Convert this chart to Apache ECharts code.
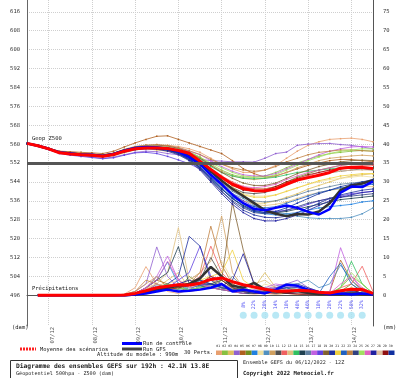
<!DOCTYPE html>
<html><head><meta charset="utf-8">
<script src="https://cdn.jsdelivr.net/npm/echarts@6.0.0/dist/echarts.min.js"></script>
<style>html,body{margin:0;padding:0;background:#fff}#c{width:400px;height:378px}</style>
</head><body><div id="c"></div>
<script>
const hours = ['h0','h6','h12','h18','h24','h30','h36','h42','h48','h54','h60','h66','h72','h78','h84','h90','h96','h102','h108','h114','h120','h126','h132','h138','h144','h150','h156','h162','h168','h174','h180','h186','h192'];
const dateLabels = ['07/12','08/12','09/12','10/12','11/12','12/12','13/12','14/12'];
const dateHours = ['h12','h36','h60','h84','h108','h132','h156','h180'];
const leftTicks = [496,504,512,520,528,536,544,552,560,568,576,584,592,600,608,616];
const rightTicks = [0,5,10,15,20,25,30,35,40,45,50,55,60,65,70,75];
const refLevel = 552;
const memberColors = ['#e8a070','#88c040','#e0c060','#9060d0','#b06020','#709020','#2080e0','#f0e0a0','#5090c0','#d0a060','#505050','#f06060','#e0c080','#30c060','#204050','#6080a0','#c060e0','#6040e0','#806030','#2030a0','#f0d040','#2060c0','#c08040','#304080','#a0e060','#e060c0','#2020a0','#e0c0a0','#901010','#1030a0'];
const memberNames = ['01','02','03','04','05','06','07','08','09','10','11','12','13','14','15','16','17','18','19','20','21','22','23','24','25','26','27','28','29','30'];

const zMean = [560.3,559.3,558,556.3,555.8,555.5,555.3,554.9,555.6, 557,558,558.3,558.3,558.1,557.3,556.1,552.8, 549.3,546,543,541.2,540.3,540.2,541,543, 544.8,545.8,546.8,548,549.8,550.2,550.1,549.7];
const zControl = [560.3,559.3,558,556.5,556,555.5,555.5,555,555.8, 557.2,558.4,558.8,558.6,558,556.8,554.5,551.5, 547,543,538.5,535,532.5,532,533,534, 533,531.3,530.2,532.5,539.5,542,541.8,544.2];
const zGfs = [560.3,559.3,558,556.5,556,555.6,555.4,555.1,555.8, 557.3,558.3,558.6,558.5,558,557,555,552.5, 548.5,544.5,541,538,535,532,530.5,529.5, 530.4,530.2,531.5,535,540.5,542.5,543.3,544.7];
const zMembers = [
[560.3,559.5,558.2,556.8,556.5,556,555.8,555.5,556, 557.5,558.5,559,559.5,559.5,559,558,556.5, 554,551.5,549.5,548,548,549,551,554, 557,559.5,561,562,562.3,562.5,562,561],
[560.3,559.2,558,556.3,556,555.6,555.2,555,555.8, 557.3,558.5,559,559,558.8,558,556.8,554.5, 551.5,549,547,546,546,546.5,548,550, 552,553.5,555,556,556.5,557,557.3,557],
[560.3,559.3,558,556.6,556.2,555.3,555,554.5,555, 556.3,557.5,558,557.5,557,556,554,551, 547,543,539,536,535,535,536,537.5, 539,541,542.5,544,545.5,546.5,547,547.5],
[560.3,559.2,557.8,556.2,555.5,555,554.5,554,554.5, 555.5,556.5,557,556.8,556,555.5,554.5,553.5, 553,552.8,552.5,552.5,552.4,554,556,556.6, 559.5,560,560.2,560.3,559.8,559.5,558.8,558],
[560.3,559.5,558.3,557,556.8,556.5,556.3,556,557, 558.8,560.5,562,563.3,563.5,562,560.5,559, 557.5,556,553,549.6,547.5,546,546.5,548, 549.5,551,552,553,553.5,553.5,553,552.5],
[560.3,559.3,558,556.4,555.8,555.4,555,554.6,555.3, 556.8,558,558.5,558.5,558,557,555,552.5, 549,545.5,543,541.5,541,541,542,544, 546,547.5,549,550,551,551.5,552,552],
[560.3,559.3,557.9,556.3,555.7,555.3,555,554.8,555.5, 557,558,558.3,558,557.5,556,553.5,550, 545.5,541,537,534,531.5,530.5,530,530.5, 531,532,533,533.5,534,534.5,535.5,536],
[560.3,559.4,558.2,556.7,556.2,555.8,555.5,555.2,556, 557.5,558.5,558.8,558.5,558,557,555.5,553.5, 549.5,546,542,539,538,538,538.5,540, 541.5,543,544,545,545.5,546,546.5,546],
[560.3,559.3,558,556.5,556,555.5,555.3,555,555.6, 557,558,558.5,558.5,558,556.5,554,550.5, 546,542,539,537,534,532,531,530.5, 529.5,528.8,528.5,528.5,528.5,529,530.5,533],
[560.3,559.4,558.1,556.6,556.1,555.7,555.4,555.1,555.8, 557.3,558.4,558.8,559,558.6,557.8,556.3,554, 551,548.5,546.5,545.5,545,545.5,546.5,548, 550,551.5,553,554,554.5,555,555.3,555],
[560.3,559.3,558,556.5,556,555.6,555.3,555,555.7, 557.1,558.1,558.4,558.3,557.8,556.8,554.8,552, 548,544.5,541.5,539.5,539,539.5,541,543, 544.5,546,547,548,548.5,549,549.5,549],
[560.3,559.2,558,556.4,555.9,555.5,555.2,554.9,555.5, 556.8,557.8,558.3,558.3,558,557,555.3,552.8, 549.5,546.5,544,542,541,541,542,543.5, 545,546.5,548,549,550,550.5,551,551],
[560.3,559.3,558,556.5,556,555.6,555.4,555.1,555.7, 557,558,558.3,558,557.3,556,553.8,550.5, 546,542,538.5,536,534.5,534,534.5,535.5, 537,538.5,539.5,540.5,541,541.5,542,542],
[560.3,559.3,558.1,556.6,556.1,555.7,555.4,555.2,555.9, 557.4,558.5,558.9,558.9,558.5,557.5,556,553.8, 550.5,548,546.5,545.5,545.3,545.5,546,547, 548,548.5,549,549.5,550,550.3,550.3,550],
[560.3,559.3,558,556.4,555.8,555.4,555.1,554.8,555.4, 556.8,557.8,558.2,558,557.4,556,553.5,550, 545.5,541,537,534,532,531,531,531.5, 532.5,533.5,534.5,535.5,536.5,537,537.5,538],
[560.3,559.3,558,556.5,556,555.5,555.2,555,555.6, 557,558,558.4,558.2,557.6,556.4,554.2,551, 547,543.5,540,537.5,536,535.5,536,537, 538.5,540,541,542,543,543.5,544,544],
[560.3,559.4,558.2,556.8,556.3,555.9,555.6,555.3,556, 557.5,558.6,559.2,559.3,559,558.3,557,555.5, 553,550.5,548.5,547,546.5,546.5,547.5,549.5, 551.5,553.5,555.5,557,558,558.8,559,558.8],
[560.3,559.1,557.7,556,555.3,554.8,554.3,553.8,554.2, 555.3,556.3,556.5,556,554.8,553.3,551.7,549.5, 546,542.5,539,536,533.5,532,531.5,532, 533,534.5,536,537,538,539,539.5,540],
[560.3,559.4,558.2,556.7,556.3,555.9,555.6,555.3,556, 557.6,558.8,559.4,559.6,559.2,558.2,556.5,554.2, 551,548,545.5,543.5,542.5,542.5,543.5,545.5, 547.5,549,550.5,551.5,552.5,553,553.2,553],
[560.3,559.3,558,556.4,555.9,555.4,555.1,554.8,555.5, 556.9,558,558.4,558.3,557.7,556.2,553.6,549.8, 545,540,535.5,532,530,529,528.8,529.5, 531,533,535,537,538.5,539.5,540.5,541],
[560.3,559.4,558.1,556.6,556.2,555.8,555.5,555.2,555.8, 557.2,558.3,558.7,558.6,558.1,557,555,552, 548.5,545,541.5,538.5,537.5,537.5,538.5,540, 541.5,543,544.5,545.5,546.5,547,547.5,547.5],
[560.3,559.3,558,556.5,556,555.5,555.2,554.9,555.5, 556.9,558,558.3,558.2,557.5,556,553.5,550.3, 546,541.5,537.5,535,533.5,533,533.5,535, 536.5,538,539.5,540.5,541.5,542,542.5,543],
[560.3,559.5,558.3,556.9,556.5,556.1,555.8,555.5,556.2, 557.8,559,559.6,559.8,559.4,558.6,557.2,555.6, 553.5,551.5,550,549,548.5,549,550.5,552.5, 554,555.5,556.5,557,557.5,557.5,557.2,557],
[560.3,559.3,558,556.5,556,555.5,555.3,555,555.6, 557,558.1,558.5,558.3,557.6,556,553.3,549.5, 544.5,540,536,533,531,530.5,531,532, 533.5,535,536,537,537.5,538,538.5,539],
[560.3,559.4,558.2,556.7,556.2,555.8,555.5,555.3,556, 557.5,558.6,559.1,559.1,558.7,557.8,556.4,554.5, 552,550,548,546.5,546,546,547,549, 551,553,554.5,556,557,557.5,558,558],
[560.3,559.3,558,556.4,555.9,555.5,555.2,554.9,555.5, 556.9,558,558.4,558.4,558,557,555.2,552.6, 549,546,543.5,542,541.5,542,543,545, 546.5,548,549,550,551,551.5,552,552],
[560.3,559.3,558,556.4,555.8,555.3,555,554.7,555.3, 556.6,557.6,558,557.8,557,555.5,553,549, 544,539,534.5,531,528.5,527.5,527.5,528.5, 530,532,534,536,537.5,538.5,539.5,540],
[560.3,559.4,558.2,556.7,556.2,555.8,555.6,555.3,556, 557.4,558.4,558.8,558.8,558.3,557.2,555.4,553, 549.5,546.5,543.5,541.5,540.5,540.5,541.5,543, 544.5,546,547,548,548.5,549,549,549],
[560.3,559.3,558,556.5,556,555.6,555.3,555,555.7, 557.1,558.2,558.6,558.6,558.2,557.2,555.2,552.5, 549,545.5,542.5,540.5,540,540.5,542,544, 545.5,547,548,549,549.5,550,550.2,550],
[560.3,559.3,558,556.5,556,555.5,555.2,554.9,555.5, 556.9,558,558.3,558.1,557.5,556.2,553.8,550.2, 545.5,541,537,533.5,531.5,531,531.5,533, 535,537,539,540.5,542,543,544,545]
];

const pMean = [null,0,0,0,0,0,0,0,0, 0.1,0.5,1.2,2,2.4,2.8,2.7,3.2, 4.2,4.6,3.6,2.8,2.2,1.6,1.1,1.1, 1.3,1.2,0.8,0.6,1.2,1.6,1.5,0.5];
const pControl = [null,0,0,0,0,0,0,0,0, 0,0.2,0.5,1,1.5,1,1.2,1.5, 2,3,1,1.5,1,0.5,1.5,2.8, 2.5,1.5,0.8,0.3,0.5,0.2,0.5,0.2];
const pGfs = [null,0,0,0,0,0,0,0,0, 0,0.2,0.8,1.5,2,2.5,3,4.5, 7.5,5,2.5,2,3.3,1.5,1,0.8, 1.2,0.6,0.3,0.3,0.2,0.5,0.3,0.2];
const pMembers = [
[null,0,0,0,0,0,0,0,0, 0.3,2,7.6,3,1,0.5,1.5,2, 3,2,1,0.5,0.3,0.5,1,0.5, 0.3,0.2,0.2,0.5,1,2,1,0.3],
[null,0,0,0,0,0,0,0,0, 0,0.5,1.5,5,2,3,1,2.5, 4,3,1.5,1,0.5,0.5,1,1.5, 1,0.5,0.3,0.5,2,5,3,0.5],
[null,0,0,0,0,0,0,0,0, 0,0.3,1,2,4,6,2,3, 2,5,3,1,2,6,2,1, 1,0.5,0.5,0.3,0.5,1,0.5,0.2],
[null,0,0,0,0,0,0,0,0, 0.2,1,3,12.8,5,2,1.5,3, 2,1.5,1,2,1,1.5,2.5,3, 4,2,1,0.5,1,1.5,0.5,0.2],
[null,0,0,0,0,0,0,0,0, 0,0.5,2,4,3,2,1,1.5, 3,2,1.5,1,0.5,0.5,0.3,0.5, 0.5,0.3,0.3,1,9.3,4,1.5,0.3],
[null,0,0,0,0,0,0,0,0, 0,0.3,1,3,2,1.5,5,3, 2,4,2,1,0.5,1,1.5,1, 0.5,0.5,0.3,0.3,1,3,1,0.2],
[null,0,0,0,0,0,0,0,0, 0,0.5,2,4,8.8,3,1.5,2, 2.5,1.5,1,0.5,0.5,1,1.5,2, 1.5,1,0.5,0.3,0.5,1,0.5,0.2],
[null,0,0,0,0,0,0,0,0, 0,0.2,1,2,3,4,3,2, 6,9,4,2,1,3,2,1.5, 1,0.5,0.3,0.3,0.5,1,0.5,0.2],
[null,0,0,0,0,0,0,0,0, 0,0.3,1,2.5,2,1.5,2,3, 2,3,1.5,1,0.5,1,2,3, 3,4,2,3,8,4,1,0.3],
[null,0,0,0,0,0,0,0,0, 0.3,1,3,5,2,3,4,6, 9,21,6,2,1,1,0.5,0.5, 0.3,0.3,0.2,0.5,0.5,1,0.5,0.2],
[null,0,0,0,0,0,0,0,0, 0,0.3,1,2,3,2,3,4, 10,5,2,1,1,1.5,1,0.5, 0.5,0.3,0.2,0.3,0.5,1,0.5,0.2],
[null,0,0,0,0,0,0,0,0, 0,0.5,1.5,3,2,2.5,3,5, 13,6,3,1.5,1,0.5,0.5,1, 1,0.5,0.3,0.3,2,3,7.7,1],
[null,0,0,0,0,0,0,0,0, 0,0.5,2,3,6,17.9,4,3, 2,1.5,1,2,3,4,2,1, 0.5,0.5,0.3,0.3,0.5,1,0.5,0.2],
[null,0,0,0,0,0,0,0,0, 0,0.3,1,2,3,2,1.5,2, 3,4,2,1.5,1,2,1.5,1, 1,0.5,0.5,0.5,2,9,3,0.5],
[null,0,0,0,0,0,0,0,0, 0,0.5,2,4,6,12.9,3,2.5, 2,1.5,1,0.5,0.5,0.5,1,0.5, 0.5,0.3,0.2,0.3,1,1.5,0.5,0.2],
[null,0,0,0,0,0,0,0,0, 0,0.3,1,2,1.5,3,2,4, 3,2,5,2,1,0.5,1,1.5, 1,0.5,0.3,0.3,0.5,0.5,0.3,0.2],
[null,0,0,0,0,0,0,0,0, 0,0.5,2,5,10.4,4,2,3, 2.5,2,1.5,1,1.5,2,3,2.5, 2,1,0.5,1,12.6,5,1.5,0.3],
[null,0,0,0,0,0,0,0,0, 0,0.3,1,3,2,4,6,13, 5,3,1.5,1,0.5,1,1.5,1, 0.5,0.5,0.3,0.3,0.5,1,0.5,0.2],
[null,0,0,0,0,0,0,0,0, 0,0.2,1,2,1.5,2,3,3, 3,4,24.5,12,3,1.5,1,0.5, 0.5,0.3,0.2,0.3,0.5,1,0.5,0.2],
[null,0,0,0,0,0,0,0,0, 0,0.3,1,2,3,5,15.6,13, 4,2,1.5,1,1,1.5,2,2.5, 3,2,1,0.5,0.5,1,0.5,0.2],
[null,0,0,0,0,0,0,0,0, 0,0.2,1,2,1.5,2,3,4, 5,6,12,4,2,1,1.5,2, 1.5,1,0.5,0.5,1,2,1,0.3],
[null,0,0,0,0,0,0,0,0, 0,0.3,1,1.5,2,3,2,2.5, 3,2,1.5,1,0.5,1,1.5,2, 1,0.5,0.5,5,8.5,3,1,0.2],
[null,0,0,0,0,0,0,0,0, 0.2,1,4,3,2,2.5,3,6, 18.3,8,3,1.5,1,1,0.5,0.5, 0.5,0.3,0.2,0.3,0.5,1,2,0.5],
[null,0,0,0,0,0,0,0,0, 0,0.3,1,2,2.5,2,3,3.5, 4,3,2,1.5,1,1,0.5,1, 1.5,1,0.5,0.3,0.5,0.5,0.3,0.2],
[null,0,0,0,0,0,0,0,0, 0,0.3,1,2,3,2,1.5,2, 2.5,2,1.5,1,0.5,0.5,1,1.5, 1,0.5,0.3,0.5,2,6,3,0.5],
[null,0,0,0,0,0,0,0,0, 0,0.5,2,4,9,4,2,3, 2,1.5,1,0.5,1,1.5,2,1.5, 1,0.5,0.3,0.5,3,5,2,0.5],
[null,0,0,0,0,0,0,0,0, 0,0.3,1,2,2,3,4,3, 3,2.5,4,11,3,1.5,1,0.5, 0.5,0.3,0.2,0.3,0.5,0.5,0.3,0.2],
[null,0,0,0,0,0,0,0,0, 0,0.3,1.5,3,2.5,3,2,3, 4,3,2,1,0.5,1,1.5,1, 0.5,0.3,0.3,0.3,0.5,1,0.5,0.2],
[null,0,0,0,0,0,0,0,0, 0,0.2,1,2,1.5,2,2.5,3, 5,4,2,1,0.5,0.5,1,0.5, 0.3,0.3,0.2,0.5,1,1.5,0.5,0.2],
[null,0,0,0,0,0,0,0,0, 0,0.3,1,1.5,2,2.5,3,4, 3,2,1.5,1,0.5,1,1.5,2, 2,1.5,0.5,0.3,0.5,1,0.5,0.2]
];

const pctHours = ['h120','h126','h132','h138','h144','h150','h156','h162','h168','h174','h180','h186'];
const pctLabels = ['8%','22%','28%','14%','18%','48%','46%','18%','28%','22%','58%','32%'];

const MONO = 'DejaVu Sans Mono';
const Y_MIN = 483, Y_MAX = 621;
const chart = echarts.init(document.getElementById('c'), null, {renderer: 'canvas'});

const dayTickIdx = dateHours.map(h => hours.indexOf(h));

const series = [];
pMembers.forEach((d, i) => series.push({type: 'line', data: d, yAxisIndex: 1, symbol: 'none', silent: true, z: 2,
  lineStyle: {width: 0.8, color: memberColors[i]}}));
zMembers.forEach((d, i) => series.push({type: 'line', data: d, yAxisIndex: 0, symbol: 'rect', symbolSize: 1.5, silent: true, z: 2,
  itemStyle: {color: memberColors[i]}, lineStyle: {width: 0.8, color: memberColors[i]}}));
series.push({type: 'line', data: pGfs, yAxisIndex: 1, symbol: 'none', z: 3, lineStyle: {width: 2.5, color: '#333'}});
series.push({type: 'line', data: pControl, yAxisIndex: 1, symbol: 'none', z: 3, lineStyle: {width: 2.5, color: '#0000ff'}});
series.push({type: 'line', data: pMean, yAxisIndex: 1, symbol: 'none', z: 4, lineStyle: {width: 3, color: '#ff0000'}});
series.push({type: 'line', data: zGfs, yAxisIndex: 0, symbol: 'none', z: 3, lineStyle: {width: 2.5, color: '#333'}});
series.push({type: 'line', data: zControl, yAxisIndex: 0, symbol: 'none', z: 3, lineStyle: {width: 2.5, color: '#0000ff'}});
series.push({type: 'line', data: zMean, yAxisIndex: 0, symbol: 'none', z: 4, lineStyle: {width: 3, color: '#ff0000'},
  markLine: {silent: true, symbol: 'none', label: {show: false}, lineStyle: {color: '#555', width: 3, type: 'solid'},
    data: [{yAxis: refLevel}]}});
series.push({type: 'scatter', yAxisIndex: 0, z: 5, symbol: 'circle', symbolSize: 7, itemStyle: {color: '#a8e2f2'},
  data: pctHours.map(h => [h, 487.5])});
series.push({type: 'scatter', yAxisIndex: 0, z: 6, symbolSize: 0,
  data: pctHours.map(h => [h, 492]),
  label: {show: true, position: 'inside', rotate: 90, fontSize: 5, fontFamily: MONO, color: '#2a2af0',
    formatter: p => pctLabels[p.dataIndex]}});
// date labels under the x axis, anchored on the day ticks
series.push({type: 'scatter', yAxisIndex: 0, z: 6, symbolSize: 0, silent: true, clip: false,
  data: dateHours.map(h => [h, Y_MIN]),
  label: {show: true, position: 'bottom', distance: 1, rotate: 90, align: 'right', verticalAlign: 'middle',
    offset: [0, 3.5], fontSize: 5.5, fontFamily: MONO, color: '#222',
    formatter: p => dateLabels[p.dataIndex]}});

const graphics = [];
const txt = (x, y, s, size, bold, extra) => graphics.push(Object.assign({type: 'text', x: x, y: y,
  style: {text: s, fontFamily: MONO, fontSize: size, fontWeight: bold ? 'bold' : 'normal', fill: '#222', verticalAlign: 'middle'}}, extra || {}));
txt(32, 139, 'Geop Z500', 5.5);
txt(32, 289, 'Précipitations', 5.5);
txt(12, 328, '(dam)', 5.5);
txt(383, 328, '(mm)', 5.5);
graphics.push({type: 'line', shape: {x1: 20, y1: 349, x2: 36, y2: 349}, style: {stroke: '#ff2020', lineWidth: 3, lineDash: [2, 1]}});
txt(40, 349.5, 'Moyenne des scénarios', 5.4);
graphics.push({type: 'line', shape: {x1: 122, y1: 343.5, x2: 142, y2: 343.5}, style: {stroke: '#0000ff', lineWidth: 3}});
txt(143, 343.5, 'Run de contrôle', 5.4);
graphics.push({type: 'line', shape: {x1: 122, y1: 349, x2: 142, y2: 349}, style: {stroke: '#444', lineWidth: 3}});
txt(143, 349.5, 'Run GFS', 5.4);
txt(97, 355, 'Altitude du modele : 990m', 5.4);
txt(184, 352.5, '30 Perts.', 5.4);
memberColors.forEach((c, i) => {
  graphics.push({type: 'rect', shape: {x: 216 + i * 5.95, y: 350.5, width: 5.95, height: 4.5}, style: {fill: c}});
  txt(216.3 + i * 5.95, 346.5, memberNames[i], 3.2);
});
graphics.push({type: 'rect', shape: {x: 10.5, y: 360.5, width: 227, height: 20}, style: {fill: '#fff', stroke: '#333', lineWidth: 1}});
txt(16, 366, 'Diagramme des ensembles GEFS sur 192h : 42.1N 13.8E', 6.3, true);
txt(16, 374, 'Géopotentiel 500hpa - Z500 (dam)', 5.1);
txt(243, 362.5, 'Ensemble GEFS du 06/12/2022 - 12Z', 5.1);
txt(243, 373.5, 'Copyright 2022 Meteociel.fr', 5.6, true);

chart.setOption({
  animation: false,
  backgroundColor: '#fff',
  grid: {left: 27, right: 27, top: 0, bottom: 52, containLabel: false},
  xAxis: {type: 'category', data: hours, boundaryGap: false,
    axisLine: {lineStyle: {color: '#555', width: 1}},
    axisTick: {show: false, customValues: dayTickIdx},
    splitLine: {show: true, lineStyle: {color: '#cfcfcf', type: 'dotted', width: 1}},
    axisLabel: {show: false}},
  yAxis: [
    {type: 'value', min: Y_MIN, max: Y_MAX, position: 'left',
      axisLine: {show: true, lineStyle: {color: '#666'}}, axisTick: {show: false, customValues: leftTicks},
      splitLine: {show: true, lineStyle: {color: '#cfcfcf', type: 'dotted'}},
      axisLabel: {customValues: leftTicks, margin: 7, fontSize: 5.5, fontFamily: MONO, color: '#333'}},
    {type: 'value', min: -8.125, max: 78.125, position: 'right',
      axisLine: {show: true, lineStyle: {color: '#555'}}, axisTick: {show: false, customValues: rightTicks},
      splitLine: {show: false},
      axisLabel: {customValues: rightTicks, margin: 10, fontSize: 5.5, fontFamily: MONO, color: '#333'}}
  ],
  graphic: graphics,
  series: series
});
</script></body></html>
